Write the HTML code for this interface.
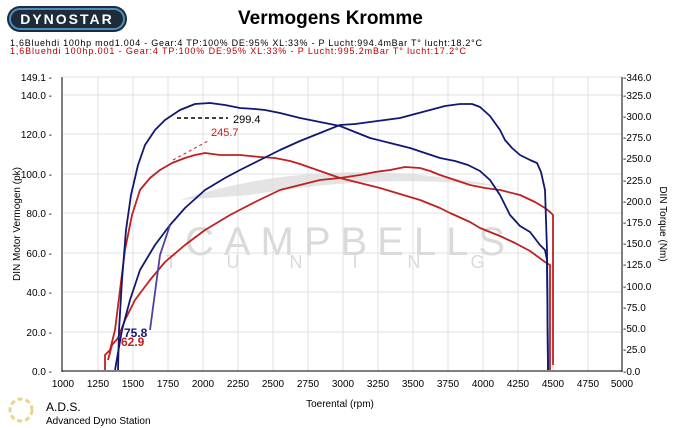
<!DOCTYPE html>
<html><head><meta charset="utf-8"><style>
html,body{margin:0;padding:0;background:#fff;width:685px;height:428px;overflow:hidden}
svg{display:block;font-family:"Liberation Sans",sans-serif}
</style></head><body>
<svg width="685" height="428" viewBox="0 0 685 428" xmlns="http://www.w3.org/2000/svg">
<!-- logo -->
<rect x="7" y="6" width="120" height="26" rx="13" fill="#1d2b3a"/>
<rect x="10" y="9" width="114" height="20" rx="10" fill="none" stroke="#4a8fc0" stroke-width="2"/>
<text x="67" y="24" font-size="14" font-weight="bold" fill="#fff" text-anchor="middle" letter-spacing="2">DYNOSTAR</text>
<text x="238" y="24" font-size="19" font-weight="bold" fill="#000">Vermogens Kromme</text>
<text x="10" y="46" font-size="9" fill="#000" textLength="472" lengthAdjust="spacing">1,6Bluehdi 100hp mod1.004 - Gear:4 TP:100% DE:95% XL:33%    - P Lucht:994.4mBar T° lucht:18.2°C</text>
<text x="10" y="54" font-size="9" fill="#c00000" textLength="456" lengthAdjust="spacing">1,6Bluehdi 100hp.001 - Gear:4 TP:100% DE:95% XL:33%   - P Lucht:995.2mBar T° lucht:17.2°C</text>
<!-- grid -->
<g stroke="#e0e0e0" stroke-width="1">
<line x1="63" y1="77" x2="622" y2="77"/>
<line x1="63" y1="95" x2="622" y2="95"/><line x1="63" y1="134" x2="622" y2="134"/>
<line x1="63" y1="174" x2="622" y2="174"/><line x1="63" y1="213" x2="622" y2="213"/>
<line x1="63" y1="253" x2="622" y2="253"/><line x1="63" y1="292" x2="622" y2="292"/>
<line x1="63" y1="332" x2="622" y2="332"/>
<line x1="98" y1="77" x2="98" y2="371"/><line x1="133" y1="77" x2="133" y2="371"/><line x1="168" y1="77" x2="168" y2="371"/>
<line x1="203" y1="77" x2="203" y2="371"/><line x1="238" y1="77" x2="238" y2="371"/><line x1="273" y1="77" x2="273" y2="371"/>
<line x1="308" y1="77" x2="308" y2="371"/><line x1="343" y1="77" x2="343" y2="371"/><line x1="378" y1="77" x2="378" y2="371"/>
<line x1="413" y1="77" x2="413" y2="371"/><line x1="448" y1="77" x2="448" y2="371"/><line x1="483" y1="77" x2="483" y2="371"/>
<line x1="518" y1="77" x2="518" y2="371"/><line x1="553" y1="77" x2="553" y2="371"/><line x1="588" y1="77" x2="588" y2="371"/>
</g>
<!-- watermark -->
<path d="M180 200 Q330 150 520 190 Q400 170 250 195 Z" fill="#d8d8d8" opacity="0.7"/>
<text x="350" y="255" font-size="40" fill="#dadada" text-anchor="middle" letter-spacing="10">CAMPBELLS</text>
<text x="350" y="268" font-size="18" fill="#dadada" text-anchor="middle" letter-spacing="50">TUNING</text>
<!-- axes -->
<g stroke="#000" stroke-width="1">
<line x1="62" y1="77" x2="62" y2="372"/><line x1="62" y1="371" x2="622" y2="371"/>
<line x1="622" y1="77" x2="622" y2="372"/>
</g>
<g font-size="10" fill="#000" text-anchor="end">
<text x="52" y="81">149.1 -</text><text x="52" y="99">140.0 -</text><text x="52" y="138">120.0 -</text>
<text x="52" y="178">100.0 -</text><text x="52" y="217">80.0 -</text><text x="52" y="257">60.0 -</text>
<text x="52" y="296">40.0 -</text><text x="52" y="336">20.0 -</text><text x="52" y="375">0.0 -</text>
</g>
<g font-size="10" fill="#000">
<text x="623" y="81">-346.0</text><text x="623" y="99">-325.0</text><text x="623" y="120">-300.0</text>
<text x="623" y="141">-275.0</text><text x="623" y="162">-250.0</text><text x="623" y="184">-225.0</text>
<text x="623" y="205">-200.0</text><text x="623" y="226">-175.0</text><text x="623" y="247">-150.0</text>
<text x="623" y="268">-125.0</text><text x="623" y="290">-100.0</text><text x="623" y="311">-75.0</text>
<text x="623" y="332">-50.0</text><text x="623" y="353">-25.0</text><text x="623" y="375">-0.0</text>
</g>
<g font-size="10" fill="#000" text-anchor="middle">
<text x="63" y="387">1000</text><text x="98" y="387">1250</text><text x="133" y="387">1500</text><text x="168" y="387">1750</text>
<text x="203" y="387">2000</text><text x="238" y="387">2250</text><text x="273" y="387">2500</text><text x="308" y="387">2750</text>
<text x="343" y="387">3000</text><text x="378" y="387">3250</text><text x="413" y="387">3500</text><text x="448" y="387">3750</text>
<text x="483" y="387">4000</text><text x="518" y="387">4250</text><text x="553" y="387">4500</text><text x="588" y="387">4750</text>
<text x="622" y="387">5000</text>
<text x="340" y="407">Toerental (rpm)</text>
</g>
<text transform="translate(20,224) rotate(-90)" font-size="10" text-anchor="middle">DIN Motor Vermogen (pk)</text>
<text transform="translate(660,224) rotate(90)" font-size="10" text-anchor="middle">DIN Torque (Nm)</text>
<!-- red curves -->
<g fill="none" stroke="#c02020" stroke-width="1.8" stroke-linejoin="round">
<polyline points="105,370 105,355 110,350 115,330 120,290 125,250 132,215 140,190 150,178 160,170 172,163 185,158 195,155 205,153 220,155 240,155 260,157 275,158 290,161 300,164 320,171 340,178 360,183 380,188 400,194 420,200 440,208 450,213 470,222 480,228 500,236 515,243 530,251 545,262 550,265 550,370"/>
<polyline points="108,360 112,345 118,338 125,320 135,300 150,280 165,262 185,245 205,230 230,215 255,202 280,190 300,185 320,180 340,178 360,175 375,172 390,170 405,167 420,168 430,171 440,175 455,180 470,185 485,188 500,190 520,195 535,202 545,208 550,212 553,215 553,365"/>
</g>
<!-- blue curves -->
<g fill="none" stroke="#101870" stroke-width="1.8" stroke-linejoin="round">
<polyline points="118,370 119,330 122,280 126,230 131,195 138,165 145,145 155,130 165,120 180,110 195,104 210,103 225,105 240,108 255,109 265,110 280,113 300,118 320,122 340,126 355,132 370,138 390,143 410,148 425,153 440,158 455,161 468,165 480,171 490,180 500,195 510,215 520,226 530,232 540,245 545,250 547,260 548,370"/>
<polyline points="115,370 122,330 130,300 140,270 155,245 170,225 185,208 205,190 225,178 240,170 260,160 280,150 300,141 320,133 340,125 355,124 370,122 385,120 400,118 415,114 430,110 445,106 460,104 472,104 480,107 490,116 500,130 505,140 512,148 520,155 530,160 537,163 541,172 545,190 547,250 548,370"/>
<polyline points="150,330 160,255 170,225" stroke="#5040a0"/>
</g>
<g stroke="#000" stroke-dasharray="4,3" stroke-width="1.5"><line x1="177" y1="118" x2="228" y2="118"/></g>
<g stroke="#c02020" stroke-dasharray="3,3" stroke-width="1"><line x1="173" y1="160" x2="208" y2="141"/></g>
<text x="233" y="123" font-size="11" fill="#000">299.4</text>
<text x="211" y="136" font-size="11" fill="#c02020">245.7</text>
<text x="124" y="337" font-size="12" font-weight="bold" fill="#101870">75.8</text>
<text x="121" y="346" font-size="12" font-weight="bold" fill="#c02020">62.9</text>
<!-- ADS logo -->
<circle cx="21" cy="410" r="11" fill="none" stroke="#e8d48a" stroke-width="3" stroke-dasharray="5,3"/>
<text x="46" y="411" font-size="12" fill="#000">A.D.S.</text>
<text x="46" y="424" font-size="10" fill="#000">Advanced Dyno Station</text>
</svg>
</body></html>
